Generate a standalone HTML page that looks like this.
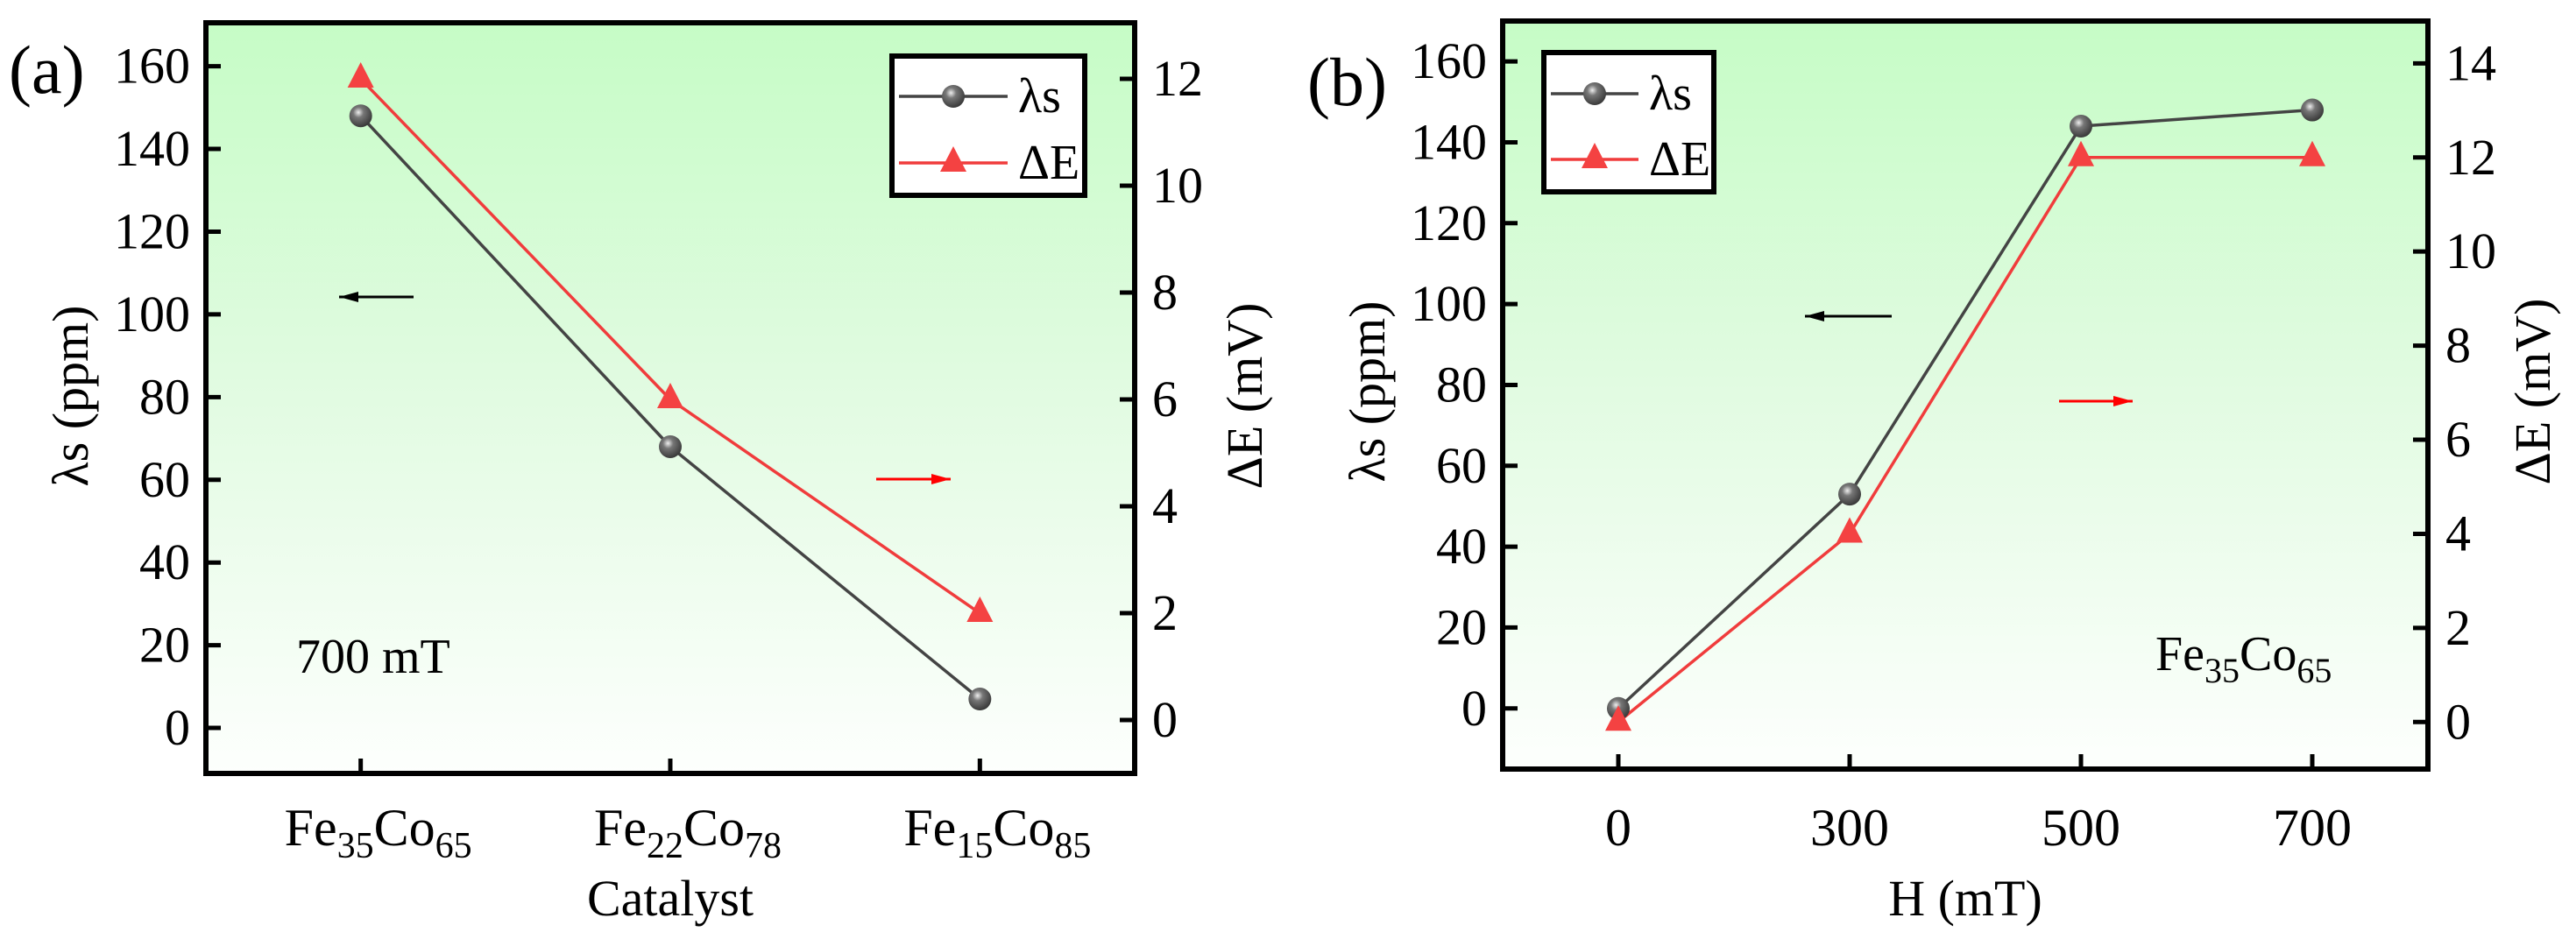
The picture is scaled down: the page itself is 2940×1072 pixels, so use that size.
<!DOCTYPE html>
<html><head><meta charset="utf-8"><style>
html,body{margin:0;padding:0;background:#fff;}
svg, svg text{font-family:"Liberation Serif","DejaVu Serif",serif;}
</style></head><body>
<svg id="chart" width="2940" height="1072" viewBox="0 0 2940 1072" xmlns="http://www.w3.org/2000/svg" font-family="Liberation Serif, DejaVu Serif, serif" style="display:block">
<defs>
<linearGradient id="bg" x1="0" y1="0" x2="0" y2="1">
<stop offset="0" stop-color="#c6fcc6"/><stop offset="0.5" stop-color="#e2fbe2"/><stop offset="1" stop-color="#fdfffd"/>
</linearGradient>
<radialGradient id="ball" cx="0.4" cy="0.35" r="0.65">
<stop offset="0" stop-color="#eeeeee"/><stop offset="0.35" stop-color="#777"/><stop offset="1" stop-color="#3a3a3a"/>
</radialGradient>
</defs>
</svg>
<script>
// Panel (a) data
const catsA = ["Fe|35|Co|65", "Fe|22|Co|78", "Fe|15|Co|85"];
const lamA = [148, 68, 7];
const dEA = [12, 6, 2];
const leftTicksA = [0, 20, 40, 60, 80, 100, 120, 140, 160];
const rightTicksA = [0, 2, 4, 6, 8, 10, 12];
// Panel (b) data
const catsB = ["0", "300", "500", "700"];
const lamB = [0, 53, 144, 148];
const dEB = [0, 4, 12, 12];
const leftTicksB = [0, 20, 40, 60, 80, 100, 120, 140, 160];
const rightTicksB = [0, 2, 4, 6, 8, 10, 12, 14];

const svg = document.getElementById('chart');
const NS = 'http://www.w3.org/2000/svg';
const FF = '"Liberation Serif", "DejaVu Serif", serif';
function mk(tag, attrs, parent) {
  const e = document.createElementNS(NS, tag);
  for (const k in attrs) e.setAttribute(k, attrs[k]);
  if (tag === 'text') e.style.fontFamily = FF;
  (parent || svg).appendChild(e);
  return e;
}

function panel(cfg) {
  const g = mk('g', {});
  
  
  const L = cfg.x0, R = cfg.x1, T = cfg.y0, B = cfg.y1;
  const n = cfg.cats.length;
  const xs = i => L + (R - L) * (i + 0.5) / n;
  const yl = v => B - (v - cfg.lMin) / (cfg.lMax - cfg.lMin) * (B - T);
  const yr = v => B - (v - cfg.rMin) / (cfg.rMax - cfg.rMin) * (B - T);

  const bg = mk('rect', {x: L, y: T, width: R - L, height: B - T, fill: 'url(#bg)'}, g);
  
  

  cfg.lTicks.forEach(v => {
    const y = yl(v);
    const t = mk('line', {x1: L, x2: L + 17, y1: y, y2: y, stroke: '#000', 'stroke-width': 5}, g);
    
    
    const tx = mk('text', {x: L - 18, y: y + 19, 'font-size': 58, 'text-anchor': 'end'}, g);
    tx.textContent = v;
    
    
  });
  cfg.rTicks.forEach(v => {
    const y = yr(v);
    const t = mk('line', {x1: R - 17, x2: R, y1: y, y2: y, stroke: '#000', 'stroke-width': 5}, g);
    
    
    const tx = mk('text', {x: R + 20, y: y + 19, 'font-size': 58, 'text-anchor': 'start'}, g);
    tx.textContent = v;
    
    
  });
  cfg.cats.forEach((c, i) => {
    const x = xs(i);
    const t = mk('line', {x1: x, x2: x, y1: B - 17, y2: B, stroke: '#000', 'stroke-width': 5}, g);
    
    
    const tx = mk('text', {x: x + (cfg.subs ? 20 : 0), y: 965, 'font-size': 60, 'text-anchor': 'middle'}, g);
    
    
    if (cfg.subs) {
      const p = c.split('|');
      const a = mk('tspan', {}, tx); a.textContent = p[0];
      const b = mk('tspan', {'font-size': 42, dy: 14}, tx); b.textContent = p[1];
      const cc = mk('tspan', {dy: -14}, tx); cc.textContent = p[2];
      const d = mk('tspan', {'font-size': 42, dy: 14}, tx); d.textContent = p[3];
    } else tx.textContent = c;
  });

  const ptsL = cfg.lam.map((v, i) => xs(i) + ',' + yl(v)).join(' ');
  const ptsR = cfg.dE.map((v, i) => xs(i) + ',' + yr(v)).join(' ');
  const lr = mk('polyline', {points: ptsR, fill: 'none', stroke: '#f03c3c', 'stroke-width': 3.5}, g);
  
  
  const ll = mk('polyline', {points: ptsL, fill: 'none', stroke: '#444', 'stroke-width': 3.5}, g);
  
  
  cfg.lam.forEach((v, i) => {
    const c = mk('circle', {cx: xs(i), cy: yl(v), r: 13, fill: 'url(#ball)'}, g);
    
    
  });
  cfg.dE.forEach((v, i) => {
    const x = xs(i), y = yr(v);
    const p = mk('polygon', {points: `${x},${y-19} ${x-15},${y+10} ${x+15},${y+10}`, fill: '#f44242'}, g);
    
    
  });

  const fr = mk('rect', {x: L, y: T, width: R - L, height: B - T, fill: 'none', stroke: '#000', 'stroke-width': 6}, g);
  
  

  const lg = mk('g', {}, g);
  
  
  const Lg = cfg.leg;
  mk('rect', {x: Lg.x, y: Lg.y, width: Lg.w, height: Lg.h, fill: '#fff', stroke: '#000', 'stroke-width': 6}, lg);
  const e1 = mk('g', {}, lg);
  
  
  mk('line', {x1: Lg.x + 8, x2: Lg.lx2, y1: Lg.e1, y2: Lg.e1, stroke: '#444', 'stroke-width': 3.5}, e1);
  mk('circle', {cx: (Lg.x + 8 + Lg.lx2) / 2, cy: Lg.e1, r: 13, fill: 'url(#ball)'}, e1);
  const t1 = mk('text', {x: Lg.lx2 + 12, y: Lg.e1 + 18, 'font-size': 56}, e1); t1.textContent = 'λs';
  const e2 = mk('g', {}, lg);
  
  
  mk('line', {x1: Lg.x + 8, x2: Lg.lx2, y1: Lg.e2, y2: Lg.e2, stroke: '#f03c3c', 'stroke-width': 3.5}, e2);
  const mx = (Lg.x + 8 + Lg.lx2) / 2;
  mk('polygon', {points: `${mx},${Lg.e2-19} ${mx-15},${Lg.e2+10} ${mx+15},${Lg.e2+10}`, fill: '#f44242'}, e2);
  const t2 = mk('text', {x: Lg.lx2 + 12, y: Lg.e2 + 18, 'font-size': 56}, e2); t2.textContent = 'ΔE';

  function arrow(x1, x2, y, color, name) {
    const a = mk('g', {}, g);
    
    
    mk('line', {x1: x1, x2: x2, y1: y, y2: y, stroke: color, 'stroke-width': 3}, a);
    const dir = x2 > x1 ? 1 : -1;
    mk('polygon', {points: `${x2},${y} ${x2 - dir*22},${y-6} ${x2 - dir*22},${y+6}`, fill: color}, a);
  }
  arrow(cfg.ak[1], cfg.ak[0], cfg.ak[2], '#000', 'left-axis-arrow');
  arrow(cfg.ar[0], cfg.ar[1], cfg.ar[2], '#f00', 'right-axis-arrow');

  const lt = mk('text', {x: cfg.ltx, y: cfg.lty, 'font-size': 58, 'text-anchor': 'middle', transform: `rotate(-90 ${cfg.ltx} ${cfg.lty})`}, g);
  lt.textContent = 'λs (ppm)';
  
  
  const rt = mk('text', {x: cfg.rtx, y: cfg.lty, 'font-size': 58, 'text-anchor': 'middle', transform: `rotate(-90 ${cfg.rtx} ${cfg.lty})`}, g);
  rt.textContent = 'ΔE (mV)';
  
  
  const xt = mk('text', {x: (L + R) / 2, y: 1045, 'font-size': 58, 'text-anchor': 'middle'}, g);
  xt.textContent = cfg.xtitle;
  
  
  const pl = mk('text', {x: cfg.plx, y: cfg.ply, 'font-size': 78}, g);
  pl.textContent = cfg.plabel;
  
  
  return g;
}

panel({name: 'panel-a', x0: 235, x1: 1295, y0: 26, y1: 883, cats: catsA, subs: true,
  lMin: -11, lMax: 170.5, rMin: -1, rMax: 13.05, lTicks: leftTicksA, rTicks: rightTicksA,
  lam: lamA, dE: dEA, leg: {x: 1018, y: 64, w: 220, h: 159, lx2: 1150, e1: 110, e2: 186},
  ak: [387, 472, 339], ar: [1000, 1085, 547], ltx: 100, rtx: 1440, lty: 452,
  xtitle: 'Catalyst', plx: 10, ply: 106, plabel: '(a)'});

panel({name: 'panel-b', x0: 1715, x1: 2771, y0: 24, y1: 878, cats: catsB, subs: false,
  lMin: -15, lMax: 170, rMin: -1, rMax: 14.9, lTicks: leftTicksB, rTicks: rightTicksB,
  lam: lamB, dE: dEB, leg: {x: 1762, y: 60, w: 194, h: 159, lx2: 1870, e1: 107, e2: 182},
  ak: [2060, 2159, 361], ar: [2350, 2434, 458], ltx: 1580, rtx: 2910, lty: 447,
  xtitle: 'H (mT)', plx: 1492, ply: 120, plabel: '(b)'});

const a1 = mk('text', {x: 338, y: 768, 'font-size': 56});
a1.textContent = '700 mT';


const a2 = mk('text', {x: 2460, y: 765, 'font-size': 56});


[['Fe', 0, null], ['35', 14, 40], ['Co', -14, null], ['65', 14, 40]].forEach(p => {
  const t = mk('tspan', {dy: p[1]}, a2);
  if (p[2]) t.setAttribute('font-size', p[2]);
  t.textContent = p[0];
});
</script>
</body></html>
